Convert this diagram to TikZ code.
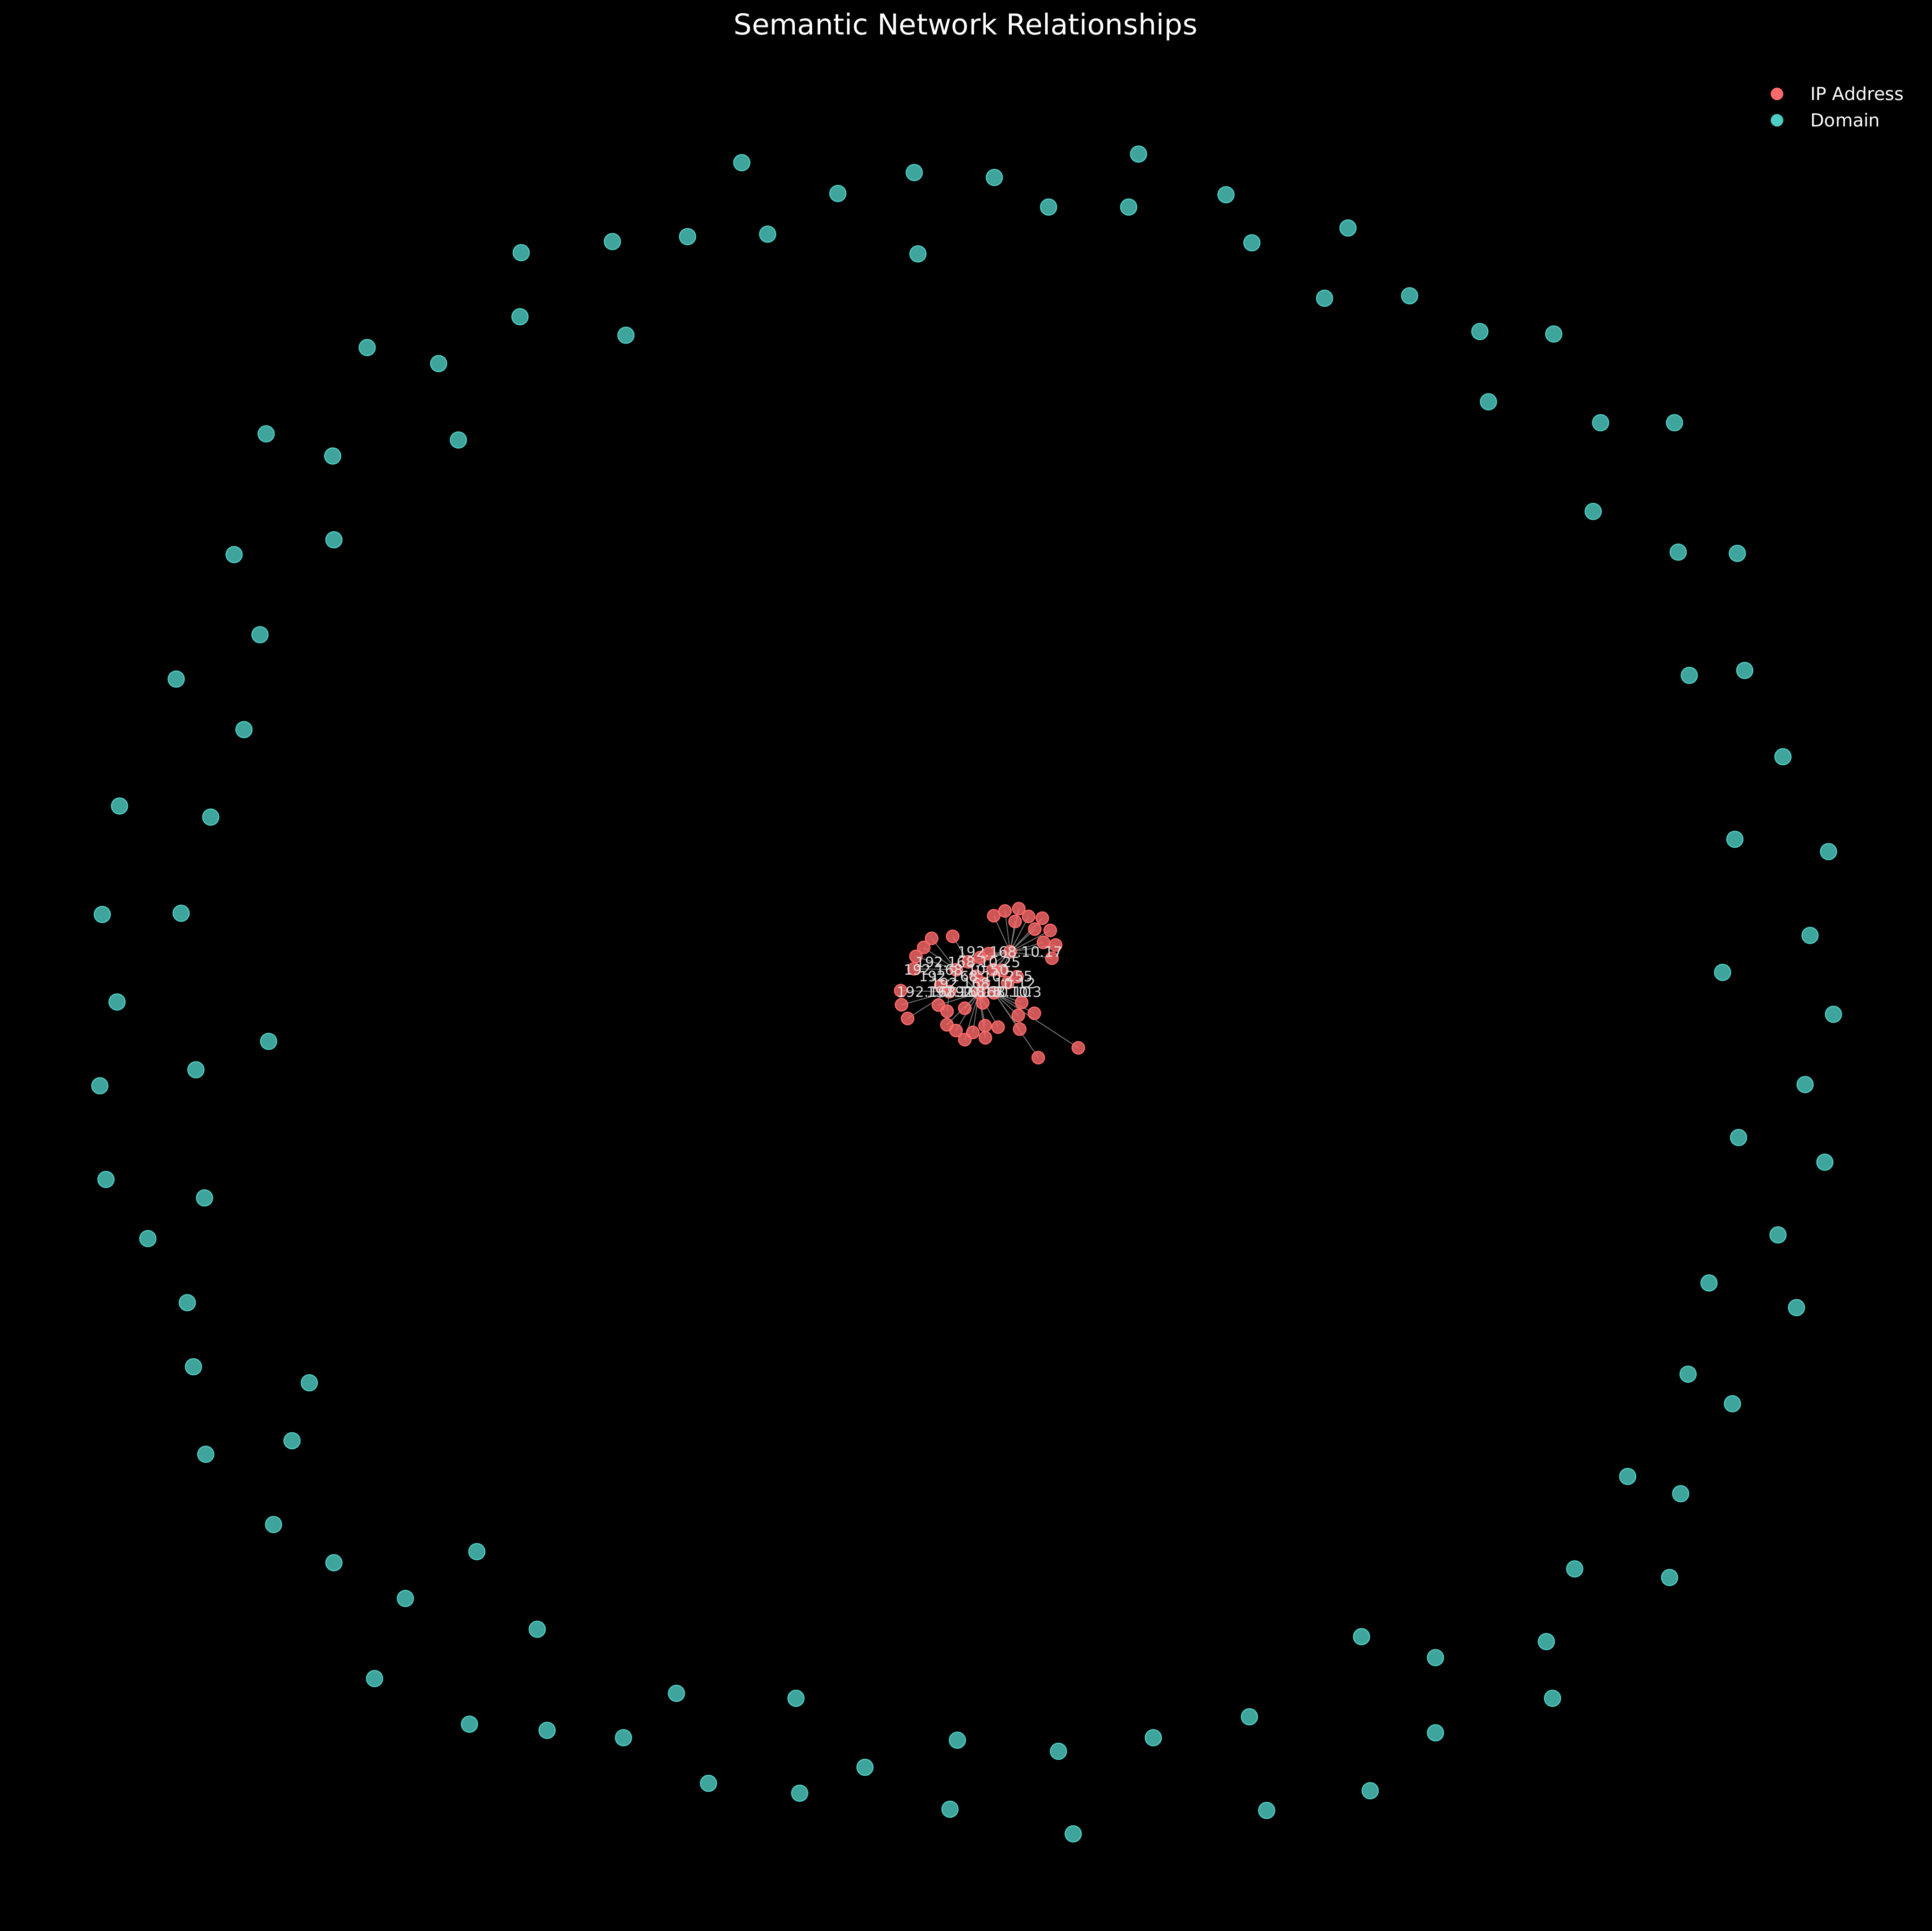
\documentclass[tikz,border=0pt]{standalone}
\usepackage{fontspec}
\setmainfont{DejaVu Sans}
\definecolor{ipcol}{HTML}{FF6B6B}
\definecolor{dmcol}{HTML}{4ECDC4}
\definecolor{edgecol}{RGB}{115,115,115}
\definecolor{labcol}{RGB}{224,224,224}
\pgfdeclarelayer{bgl}
\pgfdeclarelayer{edgel}
\pgfsetlayers{bgl,edgel,main}
\begin{document}
\begin{tikzpicture}[x=0.024137cm, y=-0.024137cm,
  ipn/.style={circle, inner sep=0pt, minimum size=0.245cm, draw=ipcol, line width=0.6pt, fill=ipcol, fill opacity=0.8},
  dmn/.style={circle, inner sep=0pt, minimum size=0.316cm, draw=dmcol, line width=0.6pt, fill=dmcol, fill opacity=0.8},
  hubn/.style={circle, inner sep=0pt, minimum size=0.245cm, draw=ipcol, line width=0.6pt, fill=ipcol, fill opacity=0.8},
  lnk/.style={draw=edgecol, line width=0.5pt},
  lab/.style={font=\fontsize{8}{9.6}\selectfont, text=labcol, inner sep=0pt, text depth=0pt},
  legdot/.style={circle, inner sep=0pt, minimum size=0.246cm},
  legtxt/.style={font=\fontsize{10}{12}\selectfont, text=white, inner sep=0pt, anchor=base west},
  ttl/.style={font=\fontsize{16}{19}\selectfont, text=white, inner sep=0pt, anchor=base}]
\useasboundingbox (0,0) rectangle (1568,1566.6);
\begin{pgfonlayer}{bgl}
\fill[black] (-10,-10) rectangle (1578,1576);
\end{pgfonlayer}

% title and legend
\node[ttl] (title) at (783.7,28.1) {Semantic Network Relationships};
\node[legdot, fill=ipcol] (lg1) at (1442.2,76.2) {};
\node[legtxt] (lgt1) at (1469.1,81.5) {IP Address};
\node[legdot, fill=dmcol] (lg2) at (1442.2,97.6) {};
\node[legtxt] (lgt2) at (1469.1,102.9) {Domain};

% domain nodes
\foreach \px/\py [count=\i] in {
298/282, 356/295, 422/257, 423/205, 497/196, 508/272, 558/192, 602/132, 623/190, 680/157,
742/140, 745/206, 807/144, 851/168, 916/168, 924/125, 995/158, 1016/197, 1094/185, 1075/242,
1144/240, 1201/269, 1261/271, 1208/326, 1299/343, 1359/343, 1293/415, 1362/448, 1410/449,
1371/548, 1416/544, 1447/614, 1408/681, 1484/691, 1469/759, 1398/789, 1488/823, 1465/880, 1411/923,
1481/943, 1443/1002, 1387/1041, 1458/1061, 1370/1115, 1406/1139, 1321/1198, 1364/1212, 1278/1273, 1355/1280,
1255/1332, 1260/1378,
1105/1328, 1165/1345, 1165/1406, 1014/1393, 1112/1453, 1028/1469, 936/1410, 859/1421, 871/1488, 777/1412,
771/1468, 702/1434, 649/1455, 646/1378, 575/1447, 549/1374, 506/1410, 444/1404, 381/1399, 436/1322,
304/1362, 387/1259, 329/1297, 271/1268, 222/1237,
167/1180, 237/1169, 251/1122, 157/1109, 152/1057, 120/1005, 166/972, 86/957, 81/881, 159/868,
218/845, 95/813, 83/742, 147/741, 97/654, 171/663, 143/551, 198/592, 211/515, 190/450,
271/438, 216/352, 270/370, 372/357}
  \node[dmn] (dm\i) at (\px,\py) {};

% IP cluster (coordinates in a local frame)
\begin{scope}[shift={(712.03,719.05)}, scale=0.116918]
% hubs
\node[hubn] (h17) at (922,455) {};
\node[hubn] (h25) at (632,525) {};
\node[hubn] (h50) at (548,580) {};
\node[hubn] (h255) at (685,625) {};
\node[hubn] (h12) at (735,675) {};
\node[hubn] (ha) at (500,732) {};
\node[hubn] (hb) at (705,740) {};
\node[hubn] (h3) at (810,740) {};
% top right group
\node[ipn] (t1) at (808,205) {};
\node[ipn] (t2) at (886,172) {};
\node[ipn] (t3) at (982,156) {};
\node[ipn] (t4) at (956,245) {};
\node[ipn] (t5) at (1050,210) {};
\node[ipn] (t6) at (1145,222) {};
\node[ipn] (t7) at (1093,298) {};
\node[ipn] (t8) at (1200,307) {};
\node[ipn] (t9) at (1153,390) {};
\node[ipn] (t10) at (1238,408) {};
\node[ipn] (t11) at (1212,500) {};
% central
\node[ipn] (c1) at (773,468) {};
\node[ipn] (c2) at (715,495) {};
\node[ipn] (c3) at (805,580) {};
\node[ipn] (c4) at (865,585) {};
\node[ipn] (c5) at (970,628) {};
\node[ipn] (c6) at (905,670) {};
\node[ipn] (c7) at (440,690) {};
\node[ipn] (c8) at (732,810) {};
% left
\node[ipn] (l1) at (377,362) {};
\node[ipn] (l2) at (322,425) {};
\node[ipn] (l3) at (268,487) {};
\node[ipn] (l4) at (255,573) {};
\node[ipn] (l5) at (523,348) {};
\node[ipn] (l6) at (162,725) {};
\node[ipn] (l7) at (168,823) {};
\node[ipn] (l8) at (210,918) {};
% bottom
\node[ipn] (d1) at (483,962) {};
\node[ipn] (d2) at (546,1002) {};
\node[ipn] (d3) at (607,1065) {};
\node[ipn] (d4) at (663,1015) {};
\node[ipn] (d5) at (750,1052) {};
\node[ipn] (d6) at (748,968) {};
\node[ipn] (d7) at (838,978) {};
\node[ipn] (d8) at (607,847) {};
\node[ipn] (d9) at (424,825) {};
\node[ipn] (d10) at (484,868) {};
% lower right
\node[ipn] (b1) at (1002,807) {};
\node[ipn] (b2) at (978,897) {};
\node[ipn] (b3) at (1090,882) {};
\node[ipn] (b4) at (988,992) {};
\node[ipn] (b5) at (1117,1190) {};
\node[ipn] (b6) at (1395,1122) {};

\begin{pgfonlayer}{edgel}
\foreach \n in {t1,t2,t3,t4,t5,t6,t7,t8,t9,t10,t11,c1,c2,c3,c4,h25,h50,h255,h12}
  \draw[lnk] (h17.center) -- (\n.center);
\foreach \n in {c5,c6,b1,b2,b3,b4,b5,b6,h255,hb}
  \draw[lnk] (h3.center) -- (\n.center);
\foreach \n in {l1,l2,l3,l4}
  \draw[lnk] (h50.center) -- (\n.center);
\draw[lnk] (h25.center) -- (l5.center);
\foreach \n in {l6,l7,l8,c7,d10,hb}
  \draw[lnk] (ha.center) -- (\n.center);
\foreach \n in {d1,d2,d3,d4,d5,d6,d7,d8,d9,c8,h12,h50}
  \draw[lnk] (hb.center) -- (\n.center);
\end{pgfonlayer}

% labels
\node[lab] (lab17) at (h17) {192.168.10.17};
\node[lab] (lab25) at (h25) {192.168.10.25};
\node[lab] (lab50) at (h50) {192.168.10.50};
\node[lab] (lab255) at (h255) {192.168.10.255};
\node[lab] (lab12) at (h12) {192.168.10.12};
\node[lab] (laba) at (500,732) {192.168.10.15};
\node[lab] (labb) at (705,732) {192.168.10.10};
\node[lab] (lab3) at (810,732) {192.168.10.3};
\end{scope}
\end{tikzpicture}
\end{document}
